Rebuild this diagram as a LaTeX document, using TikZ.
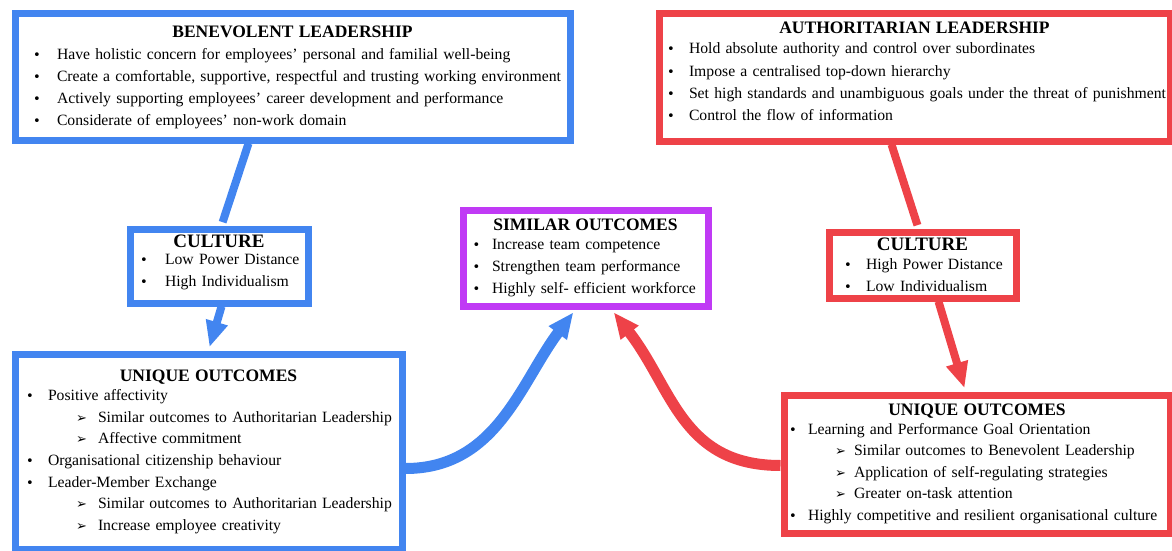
\documentclass[tikz,border=0pt]{standalone}
\usepackage{fontspec}
\setmainfont{Liberation Serif}
\newfontfamily\symfont{DejaVu Sans}
\usetikzlibrary{arrows.meta,backgrounds}

\definecolor{benblue}{RGB}{66,133,240}
\definecolor{autred}{RGB}{238,66,72}
\definecolor{simpurple}{RGB}{192,58,245}

% bullet and sub-bullet positions, set inside each box
\newlength\bulat \newlength\txtat \newlength\arrat \newlength\subat
\newcommand{\setmarks}[4]{\setlength\bulat{#1}\setlength\txtat{#2}%
  \setlength\arrat{#3}\setlength\subat{#4}}
\newcommand{\heading}[2][0pt]{\makebox[\linewidth]{\fontsize{17.5}{20}\selectfont\textbf{#2}}\par\vspace{#1}}
\newcommand{\bigheading}[2][0pt]{\makebox[\linewidth]{\fontsize{19}{20}\selectfont\textbf{#2}}\par\vspace{#1}}
\newcommand{\bitem}[1]{\noindent\hspace*{\bulat}%
  \makebox[\dimexpr\txtat-\bulat\relax][l]{\symfont\fontsize{13}{13}\selectfont •}\mbox{#1}\par}
\newcommand{\aitem}[1]{\noindent\hspace*{\arrat}%
  \makebox[\dimexpr\subat-\arrat\relax][l]{\symfont\fontsize{13}{13}\selectfont ➢}\mbox{#1}\par}
% empty space under the last line, lifts the text in its box
\newcommand{\padbottom}[1]{\par\nointerlineskip\hrule height #1 depth 0pt width 0pt}

\begin{document}
\begin{tikzpicture}[x=1pt,y=-1pt,>={Triangle[width=21pt,length=26pt]},
    shorten >=3.5pt]
  \tikzstyle{box}=[draw,line width=7pt,fill=white,inner sep=0pt,
    anchor=north west,align=left,font=\fontsize{15.7}{22}\selectfont]
  \tikzstyle{benbox}=[box,draw=benblue]
  \tikzstyle{autbox}=[box,draw=autred]
  \tikzstyle{simbox}=[box,draw=simpurple]
  \tikzstyle{link}=[line width=8pt]
  \tikzstyle{flow}=[line width=11pt]

  \useasboundingbox (0,0) rectangle (1172,551);

  % leadership styles
  \node[benbox,text width=555pt,minimum height=126pt] (benlead) at (11.5,10.5) {%
    \setmarks{18pt}{42pt}{0pt}{0pt}%
    \heading{BENEVOLENT LEADERSHIP}
    \bitem{Have holistic concern for employees’ personal and familial well-being}
    \bitem{Create a comfortable, supportive, respectful and trusting working environment}
    \bitem{Actively supporting employees’ career development and performance}
    \bitem{Considerate of employees’ non-work domain}};
  \node[autbox,text width=511pt,minimum height=127pt,
    font=\fontsize{15.7}{22.3}\selectfont] (autlead) at (655.5,10.5) {%
    \setmarks{8pt}{30pt}{0pt}{0pt}%
    \heading[-2pt]{AUTHORITARIAN LEADERSHIP}
    \bitem{Hold absolute authority and control over subordinates}
    \bitem{Impose a centralised top-down hierarchy}
    \bitem{Set high standards and unambiguous goals under the threat of punishment}
    \bitem{Control the flow of information}
    \padbottom{12pt}};

  % culture
  \node[benbox,text width=178pt,minimum height=74pt] (bencult) at (126.5,225.5) {%
    \setmarks{10pt}{35pt}{0pt}{0pt}%
    \bigheading[-5pt]{CULTURE}
    \bitem{Low Power Distance}
    \bitem{High Individualism}
    \padbottom{8pt}};
  \node[autbox,text width=187pt,minimum height=66pt] (autcult) at (825.5,228.5) {%
    \setmarks{15pt}{37pt}{0pt}{0pt}%
    \bigheading[-3pt]{CULTURE}
    \bitem{High Power Distance}
    \bitem{Low Individualism}};

  % outcomes
  \node[simbox,text width=245pt,minimum height=96pt] (simout) at (459.5,206.5) {%
    \setmarks{9.5pt}{29pt}{0pt}{0pt}%
    \heading[-3pt]{SIMILAR OUTCOMES}
    \bitem{Increase team competence}
    \bitem{Strengthen team performance}
    \bitem{Highly self- efficient workforce}};
  \node[benbox,text width=387pt,minimum height=195pt,
    font=\fontsize{15.7}{21.6}\selectfont] (benout) at (11.5,350.5) {%
    \setmarks{11pt}{33pt}{61pt}{83pt}%
    \heading[-2pt]{UNIQUE OUTCOMES}
    \bitem{Positive affectivity}
    \aitem{Similar outcomes to Authoritarian Leadership}
    \aitem{Affective commitment}
    \bitem{Organisational citizenship behaviour}
    \bitem{Leader-Member Exchange}
    \aitem{Similar outcomes to Authoritarian Leadership}
    \aitem{Increase employee creativity}};
  \node[autbox,text width=386pt,minimum height=138pt,
    font=\fontsize{15.7}{21.5}\selectfont] (autout) at (780.5,391.5) {%
    \setmarks{5pt}{24pt}{51pt}{70pt}%
    \heading[-3pt]{UNIQUE OUTCOMES}
    \bitem{Learning and Performance Goal Orientation}
    \aitem{Similar outcomes to Benevolent Leadership}
    \aitem{Application of self-regulating strategies}
    \aitem{Greater on-task attention}
    \bitem{Highly competitive and resilient organisational culture}};

  \begin{scope}[on background layer]
    \draw[link,benblue] ([xshift=-44pt]benlead.south) -- ([xshift=2.5pt]bencult.north);
    \draw[link,benblue,->] ([xshift=2.5pt]bencult.south) -- (benout.north);
    \draw[link,autred] ([xshift=-23pt]autlead.south) -- ([xshift=-4pt]autcult.north);
    \draw[link,autred,->] ([xshift=16pt]autcult.south) -- ([xshift=-11.5pt]autout.north);
    \draw[flow,benblue,->] ([yshift=-17pt]benout.east)
      to[out=0,in=-127] ([xshift=-10pt]simout.south);
    \draw[flow,autred,->] ([yshift=-1.5pt]autout.west)
      to[out=180,in=-52,looseness=1.1] ([xshift=26pt]simout.south);
  \end{scope}
\end{tikzpicture}
\end{document}
